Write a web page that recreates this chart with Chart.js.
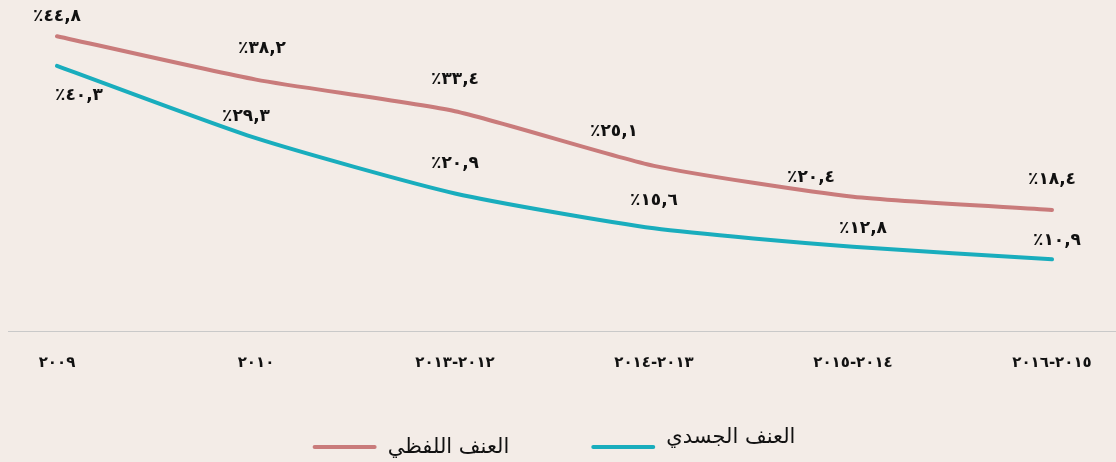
<!DOCTYPE html>
<html lang="ar">
<head>
<meta charset="UTF-8">
<title>العنف</title>
<script src="https://cdn.jsdelivr.net/npm/chart.js"></script>
<style>
  html, body { margin: 0; padding: 0; background: #f3ece7; }
  #wrap { width: 1116px; height: 462px; }
</style>
</head>
<body>
<div id="wrap"><canvas id="chart"></canvas></div>
<script>
// categories and values
var years = ['٢٠٠٩', '٢٠١٠', '٢٠١٢-٢٠١٣', '٢٠١٣-٢٠١٤', '٢٠١٤-٢٠١٥', '٢٠١٥-٢٠١٦'];
var verbal = [44.8, 38.2, 33.4, 25.1, 20.4, 18.4];
var physical = [40.3, 29.3, 20.9, 15.6, 12.8, 10.9];
var verbalText = ['٪٤٤,٨', '٪٣٨,٢', '٪٣٣,٤', '٪٢٥,١', '٪٢٠,٤', '٪١٨,٤'];
var physicalText = ['٪٤٠,٣', '٪٢٩,٣', '٪٢٠,٩', '٪١٥,٦', '٪١٢,٨', '٪١٠,٩'];

var RED = '#c97b7b';
var TEAL = '#19adbd';

// label nudges (dx, dy) relative to each point
var verbalNudge = [[0, -20], [6, -31], [0, -32], [-40, -34], [-42, -19], [0, -30]];
var physicalNudge = [[22, 30], [-10, -22], [0, -30], [0, -28], [10, -18], [5, -19]];

var labelPlugin = {
  id: 'valueLabels',
  afterDatasetsDraw: function (chart) {
    var ctx = chart.ctx;
    ctx.save();
    ctx.font = 'bold 17px "DejaVu Sans"';
    ctx.fillStyle = '#111';
    ctx.textAlign = 'center';
    ctx.textBaseline = 'middle';
    var sets = [[verbalText, verbalNudge], [physicalText, physicalNudge]];
    sets.forEach(function (s, i) {
      chart.getDatasetMeta(i).data.forEach(function (pt, j) {
        ctx.fillText(s[0][j], pt.x + s[1][j][0], pt.y + s[1][j][1]);
      });
    });
    ctx.restore();
  }
};

var baseLine = {
  id: 'baseLine',
  beforeDatasetsDraw: function (chart) {
    var ctx = chart.ctx;
    var y = Math.round(chart.scales.y.getPixelForValue(0)) + 0.5;
    ctx.save();
    ctx.strokeStyle = '#c9c9c9';
    ctx.lineWidth = 1;
    ctx.beginPath();
    ctx.moveTo(8, y);
    ctx.lineTo(chart.width, y);
    ctx.stroke();
    ctx.restore();
  }
};

// legend: line swatch then label, two items centred under the chart
var legendPlugin = {
  id: 'lineLegend',
  afterDraw: function (chart) {
    var ctx = chart.ctx;
    var swatch = 64, gap = 11, itemGap = 82;
    var textDy = [1, -9];
    ctx.save();
    ctx.font = '21px "DejaVu Sans"';
    var ds = chart.data.datasets;
    var widths = ds.map(function (d) { return ctx.measureText(d.label).width; });
    var total = widths.reduce(function (a, w) { return a + swatch + gap + w; }, 0) + itemGap * (ds.length - 1);
    var x = (chart.width - total) / 2 - 4;
    var y = 447;
    ds.forEach(function (d, i) {
      ctx.strokeStyle = d.borderColor;
      ctx.lineWidth = 4;
      ctx.lineCap = 'round';
      ctx.beginPath();
      ctx.moveTo(x + 2, y);
      ctx.lineTo(x + swatch - 2, y);
      ctx.stroke();
      ctx.fillStyle = '#111';
      ctx.textAlign = 'left';
      ctx.textBaseline = 'middle';
      ctx.fillText(d.label, x + swatch + gap, y + textDy[i]);
      x += swatch + gap + widths[i] + itemGap;
    });
    ctx.restore();
  }
};

new Chart(document.getElementById('chart'), {
  type: 'line',
  data: {
    labels: years,
    datasets: [{
      label: 'العنف اللفظي',
      data: verbal,
      borderColor: RED,
      backgroundColor: RED,
      borderWidth: 4,
      borderCapStyle: 'round',
      tension: 0.2,
      pointRadius: 0
    }, {
      label: 'العنف الجسدي',
      data: physical,
      borderColor: TEAL,
      backgroundColor: TEAL,
      borderWidth: 4,
      borderCapStyle: 'round',
      tension: 0.2,
      pointRadius: 0
    }]
  },
  options: {
    responsive: true,
    maintainAspectRatio: false,
    animation: false,
    layout: { padding: { left: 57, right: 64, top: 2, bottom: 75 } },
    scales: {
      x: {
        offset: false,
        grid: { display: false },
        border: { display: false },
        ticks: {
          color: '#111',
          padding: 15,
          maxRotation: 0,
          font: { family: 'DejaVu Sans', size: 15, weight: 'bold' }
        }
      },
      y: {
        display: false,
        min: 0,
        max: 50
      }
    },
    plugins: {
      tooltip: { enabled: false },
      legend: { display: false }
    }
  },
  plugins: [labelPlugin, baseLine, legendPlugin]
});
</script>
</body>
</html>
